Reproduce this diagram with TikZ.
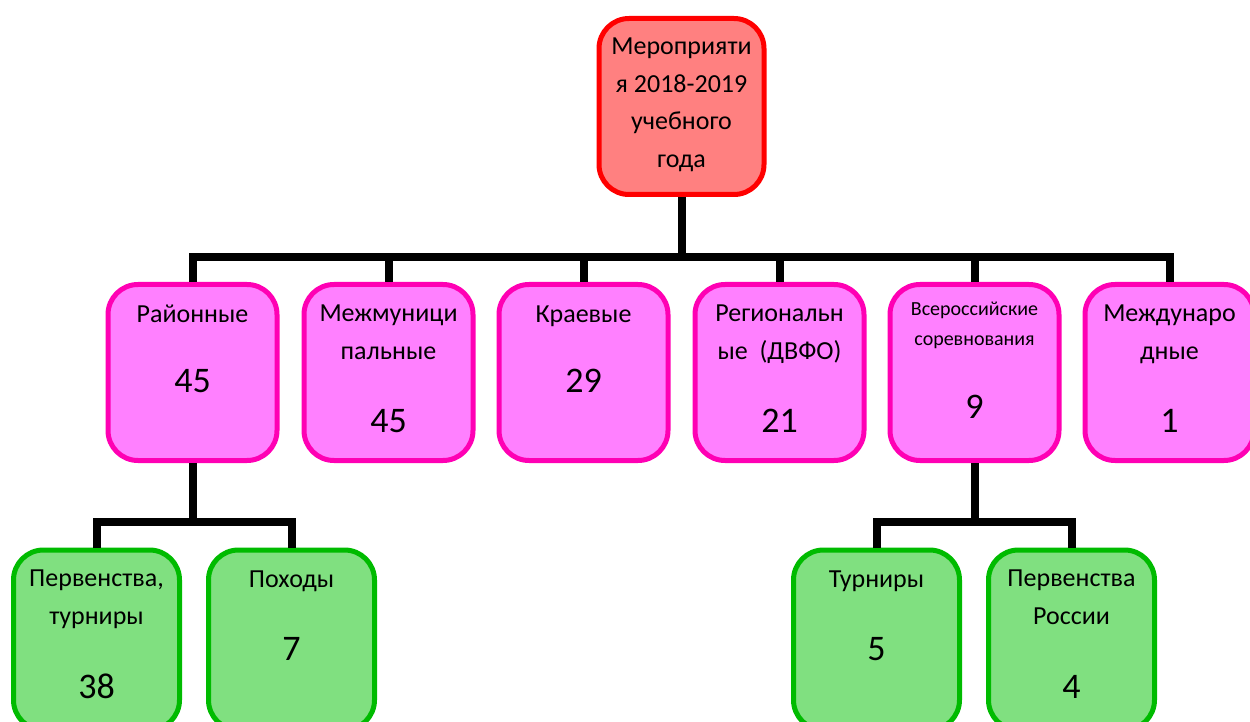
\documentclass[tikz,border=0pt]{standalone}
\usepackage{fontspec}
\setmainfont{Carlito}
\usepackage{tikz}
\definecolor{topfill}{RGB}{255,128,128}
\definecolor{topline}{RGB}{255,0,0}
\definecolor{pinkfill}{RGB}{255,128,255}
\definecolor{pinkline}{RGB}{255,0,180}
\definecolor{greenfill}{RGB}{128,224,128}
\definecolor{greenline}{RGB}{0,187,0}

\begin{document}
\begin{tikzpicture}[x=0.5pt,y=-0.5pt,
  box/.style={draw, line width=2.5pt, rounded corners=15pt, minimum width=83pt, minimum height=88pt, inner sep=0pt},
  topbox/.style={box, draw=topline, fill=topfill, minimum width=82.5pt},
  pinkbox/.style={box, draw=pinkline, fill=pinkfill, minimum width=84.5pt},
  greenbox/.style={box, draw=greenline, fill=greenfill, minimum height=90pt},
  word/.style={anchor=base, align=center, font=\fontsize{13}{18.75}\selectfont},
  small/.style={anchor=base, align=center, font=\fontsize{10}{15}\selectfont},
  num/.style={anchor=base, font=\fontsize{18}{22}\selectfont},
  conn/.style={line width=4pt}]
\useasboundingbox (0,0) rectangle (1250,722);
\clip (0,0) rectangle (1250,722);
% boxes
\node [topbox] (top) at (681.5,106.5) {};
\node [pinkbox] (p1) at (192.5,372.5) {};
\node [pinkbox] (p2) at (388.5,372.5) {};
\node [pinkbox] (p3) at (583.5,372.5) {};
\node [pinkbox] (p4) at (779.5,372.5) {};
\node [pinkbox] (p5) at (974.5,372.5) {};
\node [pinkbox] (p6) at (1169.5,372.5) {};
\node [greenbox] (g1) at (96.5,640) {};
\node [greenbox] (g2) at (291.5,640) {};
\node [greenbox] (g3) at (876.5,640) {};
\node [greenbox] (g4) at (1071.5,640) {};
% connectors
\coordinate (bus) at (681.5,257);
\coordinate (busl) at (192.5,522);
\coordinate (busr) at (974.5,522);
\draw [conn] (top.south) -- (bus);
\foreach \n in {p1,p2,p3,p4,p5,p6}
  \draw [conn] (bus) -| (\n.north);
\draw [conn] (p1.south) -- (busl);
\draw [conn] (busl) -| (g1.north);
\draw [conn] (busl) -| (g2.north);
\draw [conn] (p5.south) -- (busr);
\draw [conn] (busr) -| (g3.north);
\draw [conn] (busr) -| (g4.north);
% texts (base = last line)
\node [word] (t0) at (681.5,167.5) {Мероприяти\\я 2018-2019\\учебного\\года};
\node [word] (t1) at (192.5,322) {Районные};
\node [num] (n1) at (192.5,393) {45};
\node [word] (t2) at (388.5,359) {Межмуници\\пальные};
\node [num] (n2) at (388.5,432) {45};
\node [word] (t3) at (583.5,322) {Краевые};
\node [num] (n3) at (583.5,393) {29};
\node [word] (t4) at (779.5,359) {Региональн\\ые~~(ДВФО)};
\node [num] (n4) at (779.5,432) {21};
\node [small] (t5) at (974.5,345) {Всероссийские\\соревнования};
\node [num] (n5) at (974.5,418) {9};
\node [word] (t6) at (1169.5,359) {Междунаро\\дные};
\node [num] (n6) at (1169.5,432) {1};
\node [word] (s1) at (96.5,624) {Первенства,\\турниры};
\node [num] (m1) at (96.5,698) {38};
\node [word] (s2) at (291.5,587) {Походы};
\node [num] (m2) at (291.5,660) {7};
\node [word] (s3) at (876.5,587) {Турниры};
\node [num] (m3) at (876.5,660) {5};
\node [word] (s4) at (1071.5,624) {Первенства\\России};
\node [num] (m4) at (1071.5,698) {4};
\end{tikzpicture}
\end{document}
